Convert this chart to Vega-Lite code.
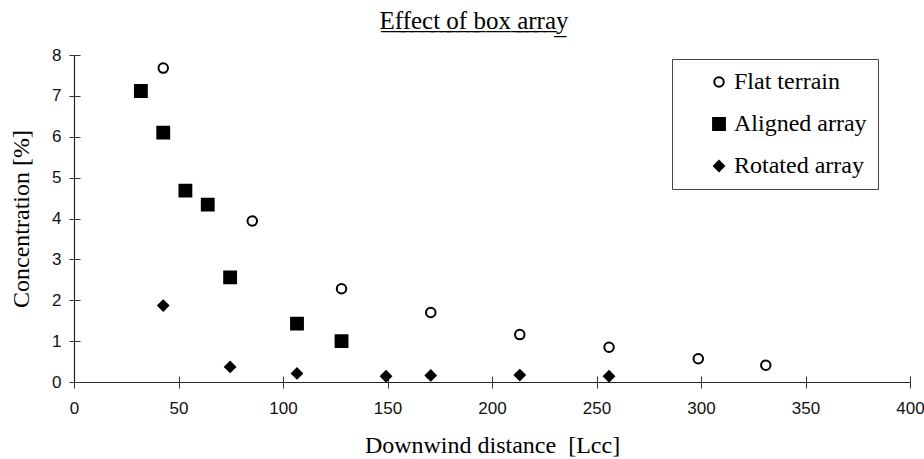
{
  "$schema": "https://vega.github.io/schema/vega-lite/v6.json",
  "autosize": "none",
  "width": 836,
  "height": 327,
  "padding": {"left": 74, "top": 55, "right": 14, "bottom": 77},
  "background": "white",
  "title": {
    "text": "E̲f̲f̲e̲c̲t̲ ̲o̲f̲ ̲b̲o̲x̲ ̲a̲r̲r̲a̲y̲",
    "font": "Liberation Serif",
    "fontSize": 25,
    "fontWeight": "normal",
    "color": "black",
    "anchor": "middle",
    "dx": -18,
    "offset": 12
  },
  "data": {
    "values": [
      {"series": "Flat terrain", "x": 42.7, "y": 7.68},
      {"series": "Flat terrain", "x": 85.3, "y": 3.94},
      {"series": "Flat terrain", "x": 128, "y": 2.28},
      {"series": "Flat terrain", "x": 170.7, "y": 1.7},
      {"series": "Flat terrain", "x": 213.3, "y": 1.16},
      {"series": "Flat terrain", "x": 256, "y": 0.85},
      {"series": "Flat terrain", "x": 298.7, "y": 0.57},
      {"series": "Flat terrain", "x": 331, "y": 0.41},
      {"series": "Aligned array", "x": 32, "y": 7.12},
      {"series": "Aligned array", "x": 42.7, "y": 6.1},
      {"series": "Aligned array", "x": 53.3, "y": 4.68},
      {"series": "Aligned array", "x": 64, "y": 4.34},
      {"series": "Aligned array", "x": 74.7, "y": 2.56},
      {"series": "Aligned array", "x": 106.7, "y": 1.43},
      {"series": "Aligned array", "x": 128, "y": 1.0},
      {"series": "Rotated array", "x": 42.7, "y": 1.87},
      {"series": "Rotated array", "x": 74.7, "y": 0.37},
      {"series": "Rotated array", "x": 106.7, "y": 0.21},
      {"series": "Rotated array", "x": 149.3, "y": 0.14},
      {"series": "Rotated array", "x": 170.7, "y": 0.16},
      {"series": "Rotated array", "x": 213.3, "y": 0.17},
      {"series": "Rotated array", "x": 256, "y": 0.14}
    ]
  },
  "config": {
    "view": {"stroke": null},
    "axis": {
      "grid": false,
      "labelFlush": false,
      "labelOverlap": false,
      "domainColor": "#222",
      "domainWidth": 1.2,
      "tickColor": "#333",
      "tickWidth": 1,
      "labelFont": "Liberation Sans",
      "labelFontSize": 17,
      "labelColor": "#111",
      "titleFont": "Liberation Serif",
      "titleFontSize": 24,
      "titleFontWeight": "normal",
      "titleColor": "black"
    }
  },
  "resolve": {"axis": {"x": "independent", "y": "independent"}},
  "layer": [
    {
      "mark": {"type": "point", "strokeWidth": 2, "opacity": 1},
      "encoding": {
        "x": {
          "field": "x",
          "type": "quantitative",
          "scale": {"domain": [0, 400], "nice": false, "zero": false},
          "axis": {
            "title": "Downwind distance\u00a0 [Lcc]",
            "values": [0, 50, 100, 150, 200, 250, 300, 350, 400],
            "tickSize": 6,
            "labelPadding": 12,
            "titleBaseline": "alphabetic",
            "titleX": 418,
            "titleY": 70
          }
        },
        "y": {
          "field": "y",
          "type": "quantitative",
          "scale": {"domain": [0, 8], "nice": false, "zero": false},
          "axis": {
            "title": "Concentration [%]",
            "values": [0, 1, 2, 3, 4, 5, 6, 7, 8],
            "tickSize": 5,
            "labelPadding": 8,
            "titleBaseline": "alphabetic",
            "titleX": -46,
            "titleY": 163.5
          }
        },
        "shape": {
          "field": "series",
          "type": "nominal",
          "title": null,
          "scale": {
            "domain": ["Flat terrain", "Aligned array", "Rotated array"],
            "range": ["circle", "square", "diamond"]
          },
          "legend": {
            "orient": "none",
            "legendX": 598,
            "legendY": 4,
            "labelFont": "Liberation Serif",
            "labelFontSize": 24,
            "labelColor": "black",
            "strokeColor": "#444",
            "padding": 11,
            "rowPadding": 18,
            "symbolOffset": 24,
            "labelOffset": 3,
            "symbolStrokeColor": "black",
            "symbolStrokeWidth": 2
          }
        },
        "fill": {
          "field": "series",
          "type": "nominal",
          "title": null,
          "scale": {
            "domain": ["Flat terrain", "Aligned array", "Rotated array"],
            "range": ["white", "black", "black"]
          }
        },
        "size": {
          "field": "series",
          "type": "nominal",
          "title": null,
          "scale": {
            "type": "ordinal",
            "domain": ["Flat terrain", "Aligned array", "Rotated array"],
            "range": [90, 140, 100]
          }
        },
        "stroke": {"value": "black"}
      }
    },
    {
      "mark": {"type": "point", "opacity": 0},
      "encoding": {
        "x": {
          "field": "x",
          "type": "quantitative",
          "axis": {
            "orient": "bottom",
            "values": [0, 50, 100, 150, 200, 250, 300, 350, 400],
            "tickSize": -6,
            "domain": false,
            "labels": false,
            "title": null
          }
        },
        "y": {
          "field": "y",
          "type": "quantitative",
          "axis": {
            "orient": "left",
            "values": [0, 1, 2, 3, 4, 5, 6, 7, 8],
            "tickSize": -6,
            "domain": false,
            "labels": false,
            "title": null
          }
        }
      }
    }
  ]
}
